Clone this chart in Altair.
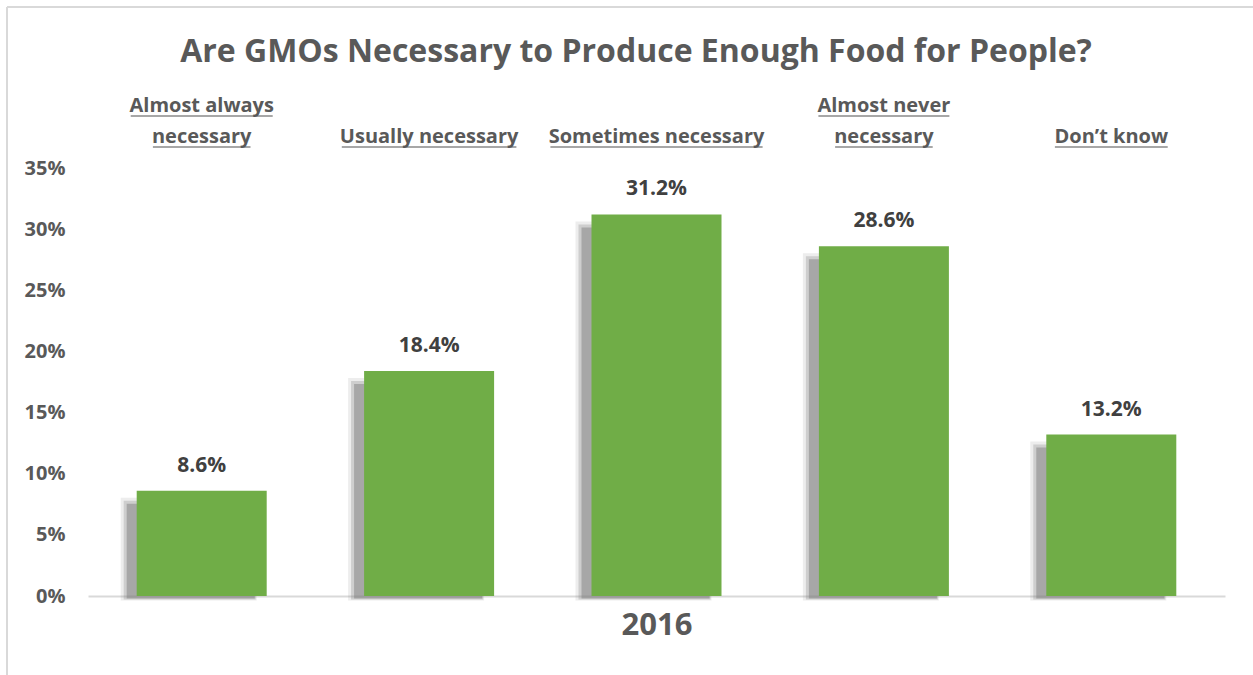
import altair as alt
import pandas as pd

# ---- data ----
categories = ["Almost always necessary", "Usually necessary", "Sometimes necessary",
              "Almost never necessary", "Don’t know"]
values = [8.6, 18.4, 31.2, 28.6, 13.2]
label_top = ["Almost always", "", "", "Almost never", ""]
label_bottom = ["necessary", "Usually necessary", "Sometimes necessary", "necessary", "Don’t know"]
y_ticks = [0, 5, 10, 15, 20, 25, 30, 35]
x_title = "2016"
title_text = "Are GMOs Necessary to Produce Enough Food for People?"

FONT = "Open Sans"
GREY = "#595959"
CAT_FS = 20

# approximate Open Sans Bold advance widths (em) used to size underlines
CW = {' ': 0.26, 'A': 0.69, 'D': 0.73, 'S': 0.55, 'U': 0.73, 'N': 0.80, 'a': 0.59,
      'c': 0.50, 'e': 0.58, 'h': 0.65, 'i': 0.29, 'k': 0.62, 'l': 0.29, 'm': 0.97,
      'n': 0.65, 'o': 0.61, 'r': 0.45, 's': 0.49, 't': 0.43, 'u': 0.65, 'v': 0.55,
      'w': 0.85, 'y': 0.55, '’': 0.23}


def text_width(s, fs):
    return sum(CW.get(ch, 0.58) for ch in s) * fs


df = pd.DataFrame({
    "cat": categories,
    "value": values,
    "top": label_top,
    "bottom": label_bottom,
    "wtop": [text_width(s, CAT_FS) for s in label_top],
    "wbot": [text_width(s, CAT_FS) for s in label_bottom],
    "label": [f"{v:.1f}%" for v in values],
})

W, H = 1137, 428
PX_PER_UNIT = H / 35.0

x_enc = alt.X("cat:N", sort=categories,
              scale=alt.Scale(paddingInner=0, paddingOuter=0),
              axis=alt.Axis(labels=False, ticks=False, domain=True, domainColor="#D9D9D9",
                            domainWidth=2, title=x_title, titleFont=FONT, titleFontSize=31,
                            titleFontWeight="bold", titleColor=GREY, titlePadding=14))
y_axis = alt.Axis(values=y_ticks, labelExpr="datum.value + '%'", title=None,
                  domain=False, ticks=False, tickSize=0, grid=False,
                  labelFont=FONT, labelFontSize=20, labelFontWeight="bold",
                  labelColor=GREY, labelPadding=23)
y_scale = alt.Scale(domain=[0, 35], nice=False)
y_enc = alt.Y("value:Q", scale=y_scale, axis=y_axis)

base = alt.Chart(df)


def shadow(width, x_off, top_px, bottom_px, opacity):
    # shadow top sits top_px below the bar top, bottom extends bottom_px below baseline
    return base.transform_calculate(
        s_top=f"datum.value - {top_px / PX_PER_UNIT}",
        s_bot=f"{-bottom_px / PX_PER_UNIT}",
    ).mark_bar(size=width, color="#7f7f7f", opacity=opacity, xOffset=x_off).encode(
        x=x_enc,
        y=alt.Y("s_top:Q", stack=None, scale=y_scale, axis=y_axis),
        y2="s_bot:Q",
    )


shadows = [
    shadow(136, -13, 7, 4.5, 0.14),
    shadow(132, -12, 10, 3.5, 0.28),
    shadow(128, -11, 13, 2.5, 0.5),
]

bars = base.mark_bar(size=130, color="#70AD47").encode(x=x_enc, y=y_enc)

value_labels = base.mark_text(font=FONT, fontSize=21, fontWeight="bold", color="#404040",
                              baseline="alphabetic", dy=-19).encode(
    x=alt.X("cat:N", sort=categories), y="value:Q", text="label:N")

cat_bottom = base.mark_text(font=FONT, fontSize=CAT_FS, fontWeight="bold", color=GREY,
                            baseline="alphabetic").encode(
    x=alt.X("cat:N", sort=categories), y=alt.value(-25), text="bottom:N")
ul_bottom = base.mark_tick(orient="horizontal", thickness=1.6, color=GREY).encode(
    x=alt.X("cat:N", sort=categories), y=alt.value(-21), size=alt.Size("wbot:Q", scale=None))

cat_top = base.transform_filter("datum.top != ''").mark_text(
    font=FONT, fontSize=CAT_FS, fontWeight="bold", color=GREY, baseline="alphabetic").encode(
    x=alt.X("cat:N", sort=categories), y=alt.value(-56), text="top:N")
ul_top = base.transform_filter("datum.top != ''").mark_tick(
    orient="horizontal", thickness=1.6, color=GREY).encode(
    x=alt.X("cat:N", sort=categories), y=alt.value(-52), size=alt.Size("wtop:Q", scale=None))

title = alt.Chart(pd.DataFrame({"t": [title_text]})).mark_text(
    font=FONT, fontSize=32, fontWeight="bold", color=GREY, align="center",
    baseline="alphabetic").encode(x=alt.value(548), y=alt.value(-106), text="t:N")

frame_left = alt.Chart(pd.DataFrame({"a": [0]})).mark_rule(color="#D9D9D9", strokeWidth=2).encode(
    x=alt.value(-81), y=alt.value(-161), y2=alt.value(H + 90))
frame_top = alt.Chart(pd.DataFrame({"a": [0]})).mark_rule(color="#D9D9D9", strokeWidth=2).encode(
    x=alt.value(-81), x2=alt.value(W + 40), y=alt.value(-161))

chart = alt.layer(*shadows, bars, value_labels, cat_bottom, ul_bottom, cat_top, ul_top,
                  title, frame_left, frame_top).properties(
    width=W, height=H,
    autosize=alt.AutoSizeParams(type="none"),
    padding={"left": 88, "top": 168, "right": 28, "bottom": 79},
    background="white",
).configure_view(stroke=None)

chart.save("out.html", embed_options={"renderer": "svg", "actions": False})
